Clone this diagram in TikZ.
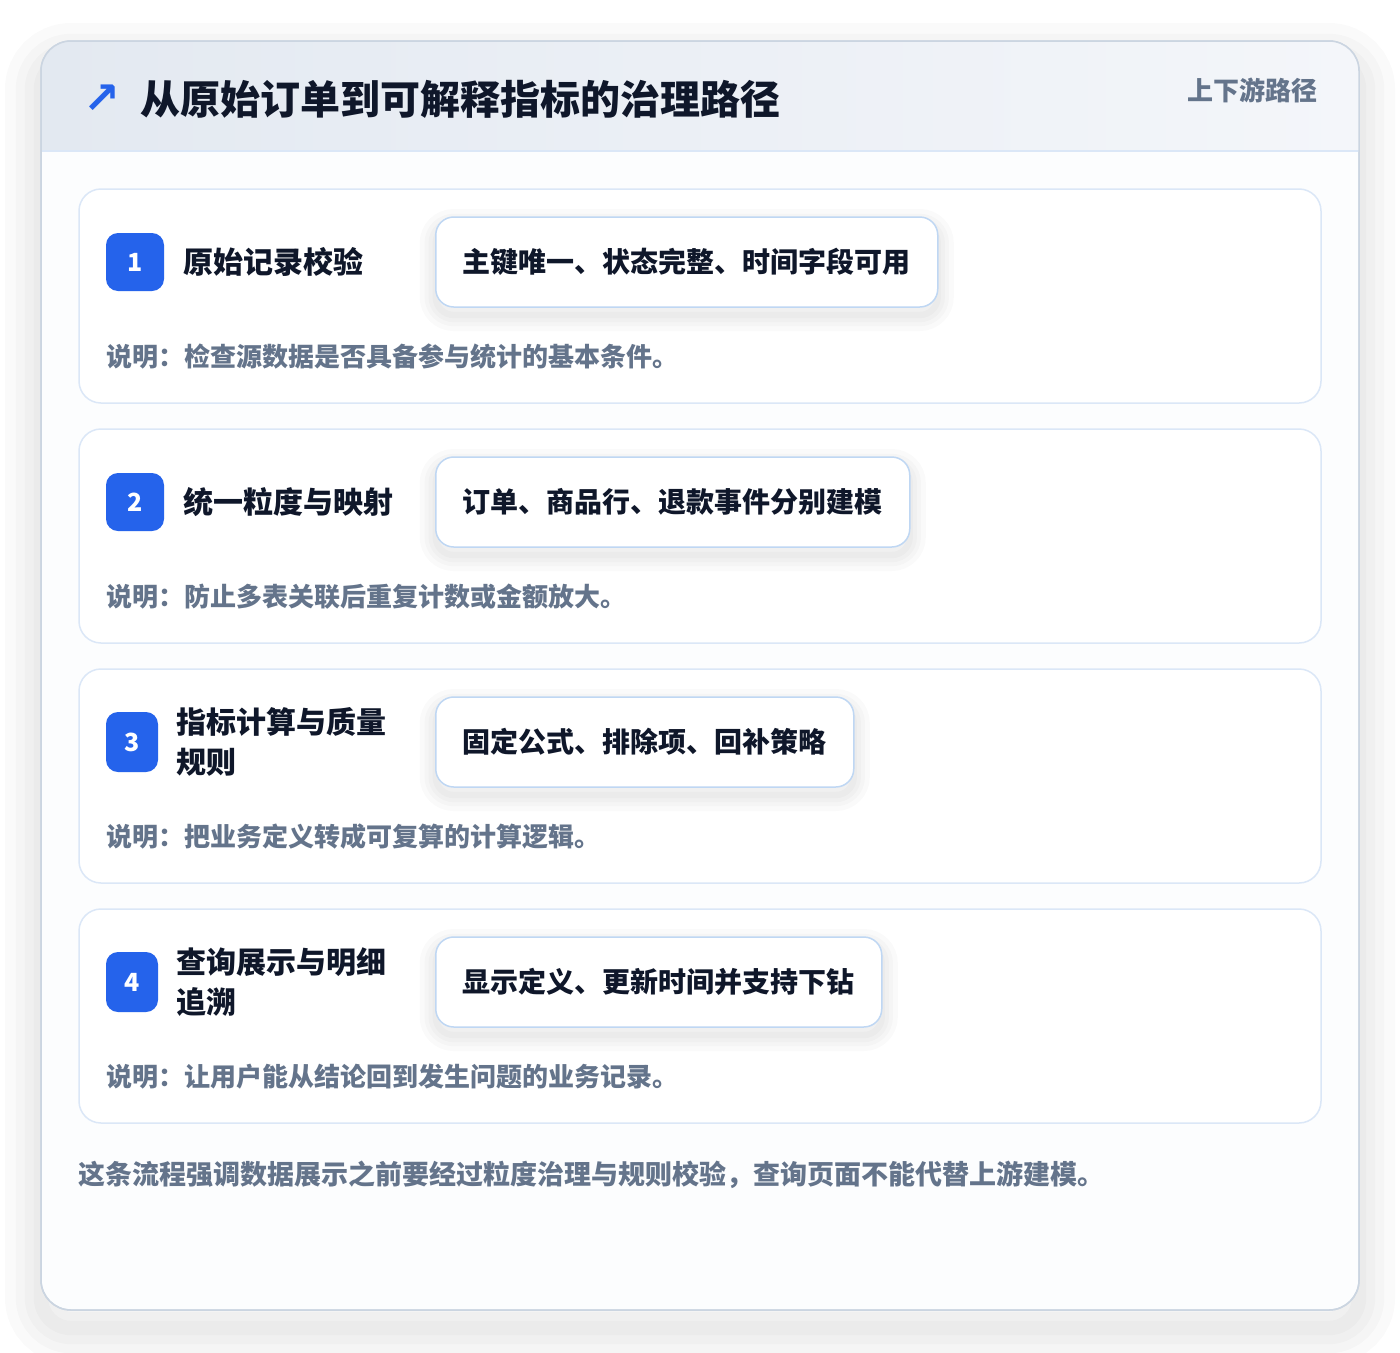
\documentclass[tikz,border=0pt]{standalone}
\usepackage{fontspec}
\setmainfont{Noto Sans CJK SC}
\newfontfamily\symbolfont{DejaVu Sans}
\usetikzlibrary{positioning}

\definecolor{accent}{HTML}{2563EB}
\definecolor{ink}{HTML}{0F172A}
\definecolor{muted}{HTML}{64748B}
\definecolor{frameline}{HTML}{CBD5E1}
\definecolor{cardline}{HTML}{DBE7F7}
\definecolor{pillline}{HTML}{BFD7F3}
\definecolor{headleft}{HTML}{E3E9F1}
\definecolor{headright}{HTML}{F4F6FA}
\definecolor{panelfill}{HTML}{FCFDFE}

\begin{document}
\begin{tikzpicture}[
    x=1pt, y=-1pt, % work in reference pixels, y grows downwards
    font=\bfseries,
    % --- STYLES ---
    soft_glow/.style args={#1/#2}{ % #1 = spread, #2 = drop
        preaction={draw=black, draw opacity=0.018, line width=#1*2, transform canvas={yshift=-#2}},
        preaction={draw=black, draw opacity=0.018, line width=#1*1.4, transform canvas={yshift=-#2}},
        preaction={draw=black, draw opacity=0.018, line width=#1*0.9, transform canvas={yshift=-#2}},
        preaction={draw=black, draw opacity=0.018, line width=#1*0.4, transform canvas={yshift=-#2}}},
    panel_box/.style={draw=frameline, line width=1.5pt, fill=panelfill, rounded corners=30pt,
        outer sep=0pt, minimum width=1318pt, minimum height=1269pt, soft_glow=36pt/18pt},
    step_card/.style={draw=cardline, line width=1.5pt, fill=white, rounded corners=22pt,
        minimum width=1242pt, minimum height=214pt},
    step_badge/.style={fill=accent, text=white, rounded corners=12pt, inner sep=0pt,
        minimum width=58pt, minimum height=58pt,
        font=\bfseries\fontsize{25}{25}\selectfont},
    step_title/.style={text=ink, anchor=west, align=left, inner sep=0pt,
        font=\bfseries\fontsize{30}{40}\selectfont},
    rule_pill/.style={draw=pillline, line width=1.5pt, fill=white, rounded corners=18pt,
        minimum height=90pt, inner xsep=27pt, anchor=west, text=ink,
        font=\bfseries\fontsize{28}{28}\selectfont, soft_glow=16pt/8pt},
    note_text/.style={text=muted, anchor=west, inner sep=0pt,
        font=\bfseries\fontsize{26}{26}\selectfont}
]
\useasboundingbox (0,0) rectangle (1400,1352);
\fill[white] (0,0) rectangle (1400,1352);

% --- PANEL AND HEADER ---
\node[panel_box] (Panel) at (700,675.5) {};
\begin{scope}
    \clip[rounded corners=30pt] (Panel.north west) rectangle (Panel.south east);
    \shade[left color=headleft, right color=headright] (41,41) rectangle (1359,151);
\end{scope}
\draw[cardline, line width=1.5pt] (41,151) -- (1359,151);
\draw[frameline, line width=1.5pt, rounded corners=30pt] (Panel.north west) rectangle (Panel.south east);

\node[text=accent, inner sep=0pt, font=\symbolfont\bfseries\fontsize{44}{44}\selectfont] (Icon) at (102,99) {↗};
\node[anchor=west, inner sep=0pt, text=ink, font=\bfseries\fontsize{40}{40}\selectfont] (Title) at (140,99) {从原始订单到可解释指标的治理路径};
\node[anchor=east, inner sep=0pt, text=muted, font=\bfseries\fontsize{26}{26}\selectfont] (Tag) at (1318,90) {上下游路径};

% --- STEP 1 ---
\node[step_card] (C1) at (700,296) {};
\node[step_badge] (B1) at (135,262) {1};
\node[step_title, right=19pt of B1] (T1) {原始记录校验};
\node[rule_pill] (P1) at (435,262) {主键唯一、状态完整、时间字段可用};
\node[note_text] (N1) at (106,357) {说明：检查源数据是否具备参与统计的基本条件。};

% --- STEP 2 ---
\node[step_card] (C2) at (700,536) {};
\node[step_badge] (B2) at (135,502) {2};
\node[step_title, right=19pt of B2] (T2) {统一粒度与映射};
\node[rule_pill] (P2) at (435,502) {订单、商品行、退款事件分别建模};
\node[note_text] (N2) at (106,597) {说明：防止多表关联后重复计数或金额放大。};

% --- STEP 3 (two-line title, narrower badge) ---
\node[step_card] (C3) at (700,776) {};
\node[step_badge, minimum width=52pt, minimum height=60pt] (B3) at (132,742) {3};
\node[step_title, right=18pt of B3] (T3) {指标计算与质量\\规则};
\node[rule_pill] (P3) at (435,742) {固定公式、排除项、回补策略};
\node[note_text] (N3) at (106,837) {说明：把业务定义转成可复算的计算逻辑。};

% --- STEP 4 (two-line title, narrower badge) ---
\node[step_card] (C4) at (700,1016) {};
\node[step_badge, minimum width=52pt, minimum height=60pt] (B4) at (132,982) {4};
\node[step_title, right=18pt of B4] (T4) {查询展示与明细\\追溯};
\node[rule_pill] (P4) at (435,982) {显示定义、更新时间并支持下钻};
\node[note_text] (N4) at (106,1077) {说明：让用户能从结论回到发生问题的业务记录。};

% --- FOOTER ---
\node[note_text, font=\bfseries\fontsize{27}{27}\selectfont] (Footer) at (78,1175) {这条流程强调数据展示之前要经过粒度治理与规则校验，查询页面不能代替上游建模。};

\end{tikzpicture}
\end{document}
